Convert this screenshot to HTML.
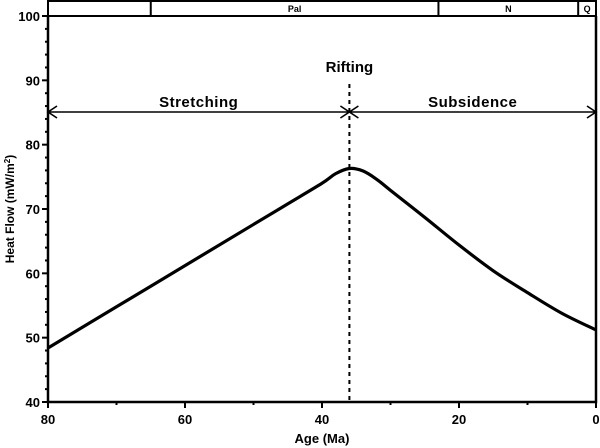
<!DOCTYPE html>
<html><head><meta charset="utf-8"><style>
html,body{margin:0;padding:0;background:#fff;}
svg{display:block;font-family:"Liberation Sans",Arial,sans-serif;font-weight:bold;}
</style></head><body>
<svg id="chart" width="600" height="448" viewBox="0 0 600 448">
<g id="g"></g>
</svg>
<script>
const ages=[80,70,60,50,45,40,38,36,34,32,30,25,20,15,10,5,0];
const heatFlow=[48.4,54.8,61.2,67.6,70.8,74,75.5,76.3,75.9,74.6,72.9,68.7,64.4,60.4,57,53.8,51.2];
const xTicks=[80,60,40,20,0];
const yTicks=[40,50,60,70,80,90,100];
const periods=[{name:"",from:80,to:65},{name:"Pal",from:65,to:23},{name:"N",from:23,to:2.6},{name:"Q",from:2.6,to:0}];
const riftAge=36;
const L=48,R=596,T=16,B=402;
const x=a=>L+(80-a)/80*(R-L);
const y=v=>B-(v-40)/60*(B-T);
const NS="http://www.w3.org/2000/svg";
const g=document.getElementById('g');
function mk(t,a,p){const e=document.createElementNS(NS,t);for(const k in a)e.setAttribute(k,a[k]);(p||g).appendChild(e);return e;}
// period bar
const bar=mk('rect',{x:L,y:1,width:R-L,height:T-1,fill:'none',stroke:'#000','stroke-width':2});


periods.forEach(p=>{
  if(p.to>0){const d=mk('line',{x1:x(p.to),x2:x(p.to),y1:1,y2:T,stroke:'#000','stroke-width':2});
  
  }
  if(p.name){const t=mk('text',{x:(x(p.from)+x(p.to))/2,y:12,'font-size':9,'text-anchor':'middle'});t.textContent=p.name;
  
  }
});
// axes
const ax=mk('path',{d:`M${L},${T}V${B}H${R}V${T}`,fill:'none',stroke:'#000','stroke-width':2.5});


for(let v=40;v<=100;v+=2){const len=(v%10===0)?6:3;
  const tk=mk('line',{x1:L-len,x2:L,y1:y(v),y2:y(v),stroke:'#000','stroke-width':2});
  
  }
yTicks.forEach(v=>{const t=mk('text',{x:L-8,y:y(v)+5,'font-size':13,'text-anchor':'end'});t.textContent=v;
  
  });
for(let a=0;a<=80;a+=10){const len=(a%20===0)?6:3;
  const tk=mk('line',{x1:x(a),x2:x(a),y1:B,y2:B+len,stroke:'#000','stroke-width':2});
  
  }
xTicks.forEach(a=>{const t=mk('text',{x:x(a),y:424,'font-size':13,'text-anchor':'middle'});t.textContent=a;
  
  });
const xt=mk('text',{x:322,y:443,'font-size':13,'text-anchor':'middle'});xt.textContent='Age (Ma)';


const yt=mk('text',{x:0,y:0,'font-size':12,'text-anchor':'middle',transform:`translate(14,${(T+B)/2}) rotate(-90)`});
yt.innerHTML='Heat Flow (mW/m<tspan dy="-4" font-size="8">2</tspan><tspan dy="4">)</tspan>';


// rifting line
const rl=mk('line',{x1:x(riftAge),x2:x(riftAge),y1:84,y2:B,stroke:'#000','stroke-width':2,'stroke-dasharray':'4,4'});


const rt=mk('text',{x:x(riftAge),y:72,'font-size':15,'text-anchor':'middle'});rt.textContent='Rifting';


// arrows
const ay=112,xr=x(riftAge);
const arr=mk('path',{d:`M${L},${ay}H${R}M${L+9},${ay-6}L${L},${ay}L${L+9},${ay+6}M${xr-9},${ay-6}L${xr},${ay}L${xr-9},${ay+6}M${xr+9},${ay-6}L${xr},${ay}L${xr+9},${ay+6}M${R-9},${ay-6}L${R},${ay}L${R-9},${ay+6}`,fill:'none',stroke:'#000','stroke-width':1.6});


const s1=mk('text',{x:(L+xr)/2,y:107,'font-size':15,'text-anchor':'middle','letter-spacing':'0.5'});s1.textContent='Stretching';


const s2=mk('text',{x:(xr+R)/2,y:107,'font-size':15,'text-anchor':'middle','letter-spacing':'0.5'});s2.textContent='Subsidence';


// curve (Catmull-Rom)
const P=ages.map((a,i)=>[x(a),y(heatFlow[i])]);
let d=`M${P[0][0]},${P[0][1]}`;
for(let i=0;i<P.length-1;i++){const p0=P[i-1]||P[i],p1=P[i],p2=P[i+1],p3=P[i+2]||P[i+1];
  d+=`C${p1[0]+(p2[0]-p0[0])/6},${p1[1]+(p2[1]-p0[1])/6} ${p2[0]-(p3[0]-p1[0])/6},${p2[1]-(p3[1]-p1[1])/6} ${p2[0]},${p2[1]}`;}
const c=mk('path',{d,fill:'none',stroke:'#000','stroke-width':3.2});


</script>
</body></html>
